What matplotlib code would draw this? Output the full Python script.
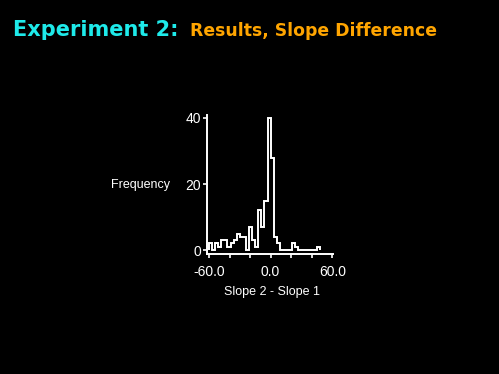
import numpy as np
import matplotlib
matplotlib.use('Agg')
import matplotlib.pyplot as plt

# histogram of slope differences, bins of 3 from -60 to 48
bin_edges = np.arange(-60, 49, 3)
counts = [2, 0, 2, 1, 3, 3, 1, 2, 3, 5,
          4, 4, 0, 7, 3, 1, 12, 7, 15, 40,
          28, 4, 2, 0, 0, 0, 0, 2, 1, 0,
          0, 0, 0, 0, 0, 1]
xtick_vals = [-60, -40, -20, 0, 20, 40, 60]
xtick_labels = ['-60.0', '', '', '0.0', '', '', '60.0']
ytick_vals = [0, 20, 40]

fg = 'white'
axfont = 'Liberation Sans'

fig = plt.figure(figsize=(4.99, 3.74), dpi=100)
fig.patch.set_facecolor('black')

# title in two colours
fig.text(13 / 499, 1 - 36.5 / 374, 'Experiment 2:', color='#1EEAEA',
         fontsize=15, fontweight='bold', family='DejaVu Sans', va='baseline')
fig.text(190 / 499, 1 - 36.5 / 374, 'Results, Slope Difference', color='#FFA500',
         fontsize=12.4, fontweight='bold', family='DejaVu Sans', va='baseline')

ax = fig.add_axes([207.3 / 499, 1 - 254 / 374, (333 - 207.3) / 499, (254 - 115) / 374])
ax.set_facecolor('black')
ax.stairs(counts, bin_edges, color=fg, lw=1.4, baseline=0)

ax.set_xlim(-61.6, 60.7)
ax.set_ylim(-1.2, 40.9)
ax.set_xticks(xtick_vals)
ax.set_xticklabels(xtick_labels)
ax.set_yticks(ytick_vals)
ax.set_yticklabels([str(v) for v in ytick_vals])

for s in ['top', 'right']:
    ax.spines[s].set_visible(False)
for s in ['left', 'bottom']:
    ax.spines[s].set_color(fg)
    ax.spines[s].set_linewidth(1.4)

ax.tick_params(colors=fg, length=3, width=1.2, labelsize=10)
ax.tick_params(axis='x', pad=5)
ax.tick_params(axis='y', pad=1.5)
for lab in ax.get_xticklabels() + ax.get_yticklabels():
    lab.set_family(axfont)

fig.text(110.5 / 499, 1 - 187.7 / 374, 'Frequency', color=fg, fontsize=9,
         family=axfont, va='baseline')
fig.text(272 / 499, 1 - 295 / 374, 'Slope 2 - Slope 1', color=fg, fontsize=9,
         family=axfont, va='baseline', ha='center')

fig.savefig('out.png', dpi=100, facecolor='black')
